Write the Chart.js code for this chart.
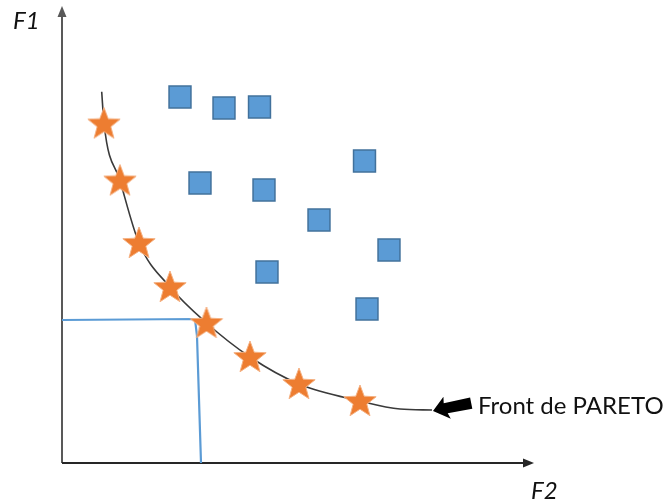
<!DOCTYPE html>
<html>
<head>
<meta charset="utf-8">
<script src="https://cdn.jsdelivr.net/npm/chart.js@4.4.1/dist/chart.umd.min.js"></script>
<style>
  html, body { margin: 0; padding: 0; background: #fff; }
  #wrap { width: 667px; height: 501px; }
</style>
</head>
<body>
<div id="wrap"><canvas id="chart" width="667" height="501"></canvas></div>
<script>
// Dominated solutions (squares)
const squareX = [118, 162, 197.5, 302.5, 138, 202, 257, 327, 205, 305];
const squareY = [366, 355, 356, 302, 280, 273, 243, 213, 191, 154];

// Pareto optimal solutions (stars)
const starX = [42, 58, 77, 108, 144.5, 188, 237, 298];
const starY = [339.5, 282.5, 220, 176, 140, 106, 79, 62];

// Pareto front curve
const curveX = [39.7, 42, 58, 77, 108, 144.5, 188, 237, 298, 338, 370];
const curveY = [371.3, 339.5, 282.5, 220, 176, 140, 106, 79, 62, 54, 53];

// Blue projection lines
const limitX = [0, 133, 135, 139];
const limitY = [143, 144, 127, 0];

const axisLabels = ['F1', 'F2'];
const frontLabel = 'Front de PARETO';

function toPoints(xs, ys) {
    return xs.map((x, i) => ({ x: x, y: ys[i] }));
}

// Filled star image for the point style
function makeStar(outer, inner) {
    const size = Math.ceil(outer * 2 + 4);
    const c = document.createElement('canvas');
    c.width = size;
    c.height = size;
    const g = c.getContext('2d');
    const cx = size / 2, cy = size / 2 + 1;
    g.beginPath();
    for (let i = 0; i < 10; i++) {
        const r = i % 2 === 0 ? outer : inner;
        const a = -Math.PI / 2 + i * Math.PI / 5;
        const px = cx + r * Math.cos(a);
        const py = cy + r * Math.sin(a);
        if (i === 0) g.moveTo(px, py); else g.lineTo(px, py);
    }
    g.closePath();
    g.fillStyle = '#ed7d31';
    g.fill();
    g.strokeStyle = '#f4b183';
    g.lineWidth = 1;
    g.stroke();
    return c;
}

const starImg = makeStar(17, 7.2);

// Axes with arrows + annotation text
const decorations = {
    id: 'decorations',
    beforeDatasetsDraw(chart) {
        const ctx = chart.ctx;
        const a = chart.chartArea;
        ctx.save();
        ctx.strokeStyle = '#595959';
        ctx.fillStyle = '#595959';
        ctx.lineWidth = 2;
        // y axis
        ctx.beginPath();
        ctx.moveTo(a.left, a.bottom);
        ctx.lineTo(a.left, a.top + 10);
        ctx.stroke();
        ctx.beginPath();
        ctx.moveTo(a.left, a.top + 1);
        ctx.lineTo(a.left - 4.5, a.top + 12);
        ctx.lineTo(a.left + 4.5, a.top + 12);
        ctx.closePath();
        ctx.fill();
        // x axis
        ctx.strokeStyle = '#262626';
        ctx.fillStyle = '#262626';
        ctx.beginPath();
        ctx.moveTo(a.left, a.bottom);
        ctx.lineTo(a.right - 10, a.bottom);
        ctx.stroke();
        ctx.beginPath();
        ctx.moveTo(a.right - 1, a.bottom);
        ctx.lineTo(a.right - 12, a.bottom - 4.5);
        ctx.lineTo(a.right - 12, a.bottom + 4.5);
        ctx.closePath();
        ctx.fill();
        ctx.restore();
    },
    afterDatasetsDraw(chart) {
        const ctx = chart.ctx;
        const a = chart.chartArea;
        const xs = chart.scales.x, ys = chart.scales.y;
        ctx.save();
        ctx.fillStyle = '#111';
        ctx.font = 'italic 24px Lato, "Liberation Sans", sans-serif';
        ctx.textBaseline = 'alphabetic';
        ctx.textAlign = 'left';
        ctx.fillText(axisLabels[0], 13, 29);
        ctx.fillText(axisLabels[1], a.right - 4, 499);

        // black block arrow pointing at the end of the front
        const n = curveX.length - 1;
        const tipX = xs.getPixelForValue(curveX[n]) + 1;
        const tipY = ys.getPixelForValue(curveY[n]) + 1;
        const ang = Math.atan2(-7.5, 38);
        const shape = [[0, 0], [13, -12], [12, -5.5], [39, -6], [39, 5.5], [14, 5], [16, 11]];
        ctx.fillStyle = '#000';
        ctx.beginPath();
        shape.forEach((p, i) => {
            const px = tipX + p[0] * Math.cos(ang) - p[1] * Math.sin(ang);
            const py = tipY + p[0] * Math.sin(ang) + p[1] * Math.cos(ang);
            if (i === 0) ctx.moveTo(px, py); else ctx.lineTo(px, py);
        });
        ctx.closePath();
        ctx.fill();

        ctx.fillStyle = '#111';
        ctx.font = '24px Lato, "Liberation Sans", sans-serif';
        ctx.fillText(frontLabel, tipX + 45, tipY + 3);
        ctx.restore();
    }
};

new Chart(document.getElementById('chart').getContext('2d'), {
    type: 'scatter',
    data: {
        datasets: [
            {
                label: 'Pareto',
                data: toPoints(starX, starY),
                pointStyle: starImg,
                pointRadius: 17
            },
            {
                label: 'Solutions',
                data: toPoints(squareX, squareY),
                pointStyle: 'rect',
                pointRadius: 15.5,
                backgroundColor: '#5b9bd5',
                borderColor: '#41719c',
                borderWidth: 1.5
            },
            {
                label: 'Front',
                data: toPoints(curveX, curveY),
                showLine: true,
                pointRadius: 0,
                borderColor: '#3a3a3a',
                borderWidth: 1.6,
                cubicInterpolationMode: 'monotone'
            },
            {
                label: 'Limits',
                data: toPoints(limitX, limitY),
                showLine: true,
                pointRadius: 0,
                borderColor: '#5b9bd5',
                borderWidth: 2.2,
                tension: 0
            }
        ]
    },
    options: {
        responsive: false,
        animation: false,
        layout: { autoPadding: false, padding: { left: 62, right: 132, top: 5, bottom: 38 } },
        plugins: {
            legend: { display: false },
            tooltip: { enabled: false }
        },
        scales: {
            x: { type: 'linear', min: 0, max: 473, display: false },
            y: { type: 'linear', min: 0, max: 458, display: false }
        }
    },
    plugins: [decorations]
});
</script>
</body>
</html>
